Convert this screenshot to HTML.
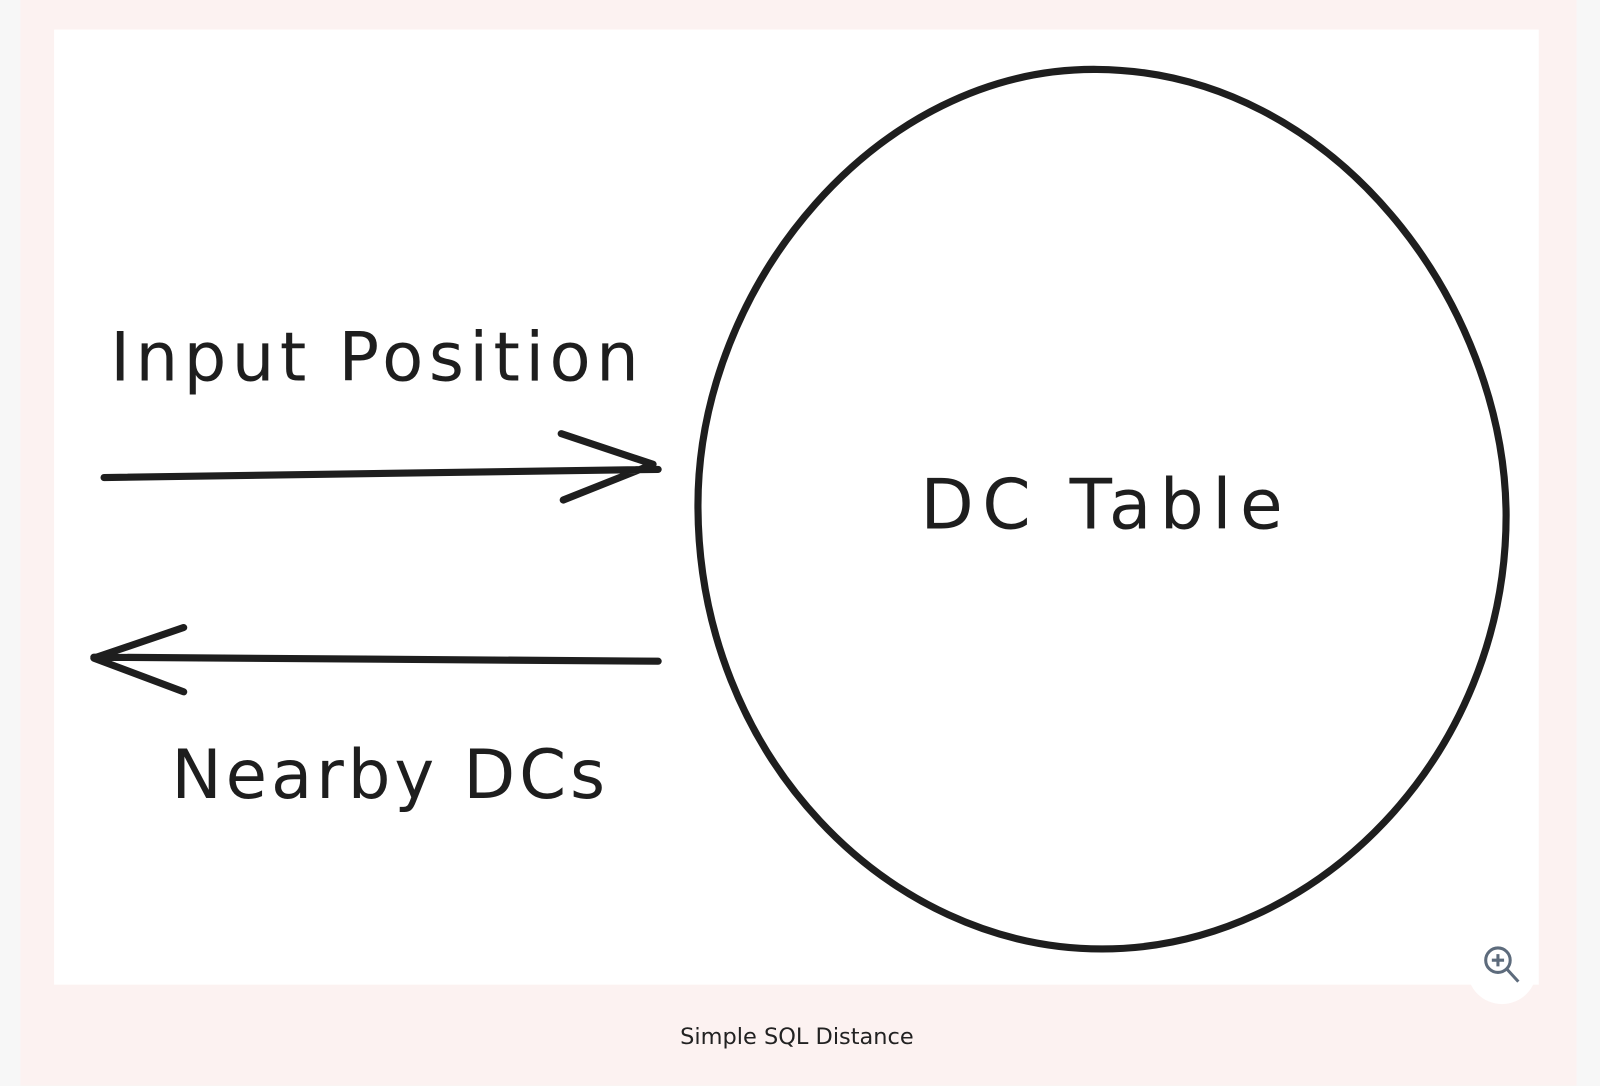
<!DOCTYPE html>
<html><head><meta charset="utf-8"><style>
html,body{margin:0;padding:0;width:1600px;height:1064px;background:#f7f7f7;overflow:hidden}
#wrap{position:absolute;left:0;top:0;width:1568px;height:1043px;transform:scale(1.0204);transform-origin:0 0}
#pink{position:absolute;left:20px;top:0;width:1525px;height:1064px;background:#fcf2f1}
#white{position:absolute;left:53px;top:29px;width:1455px;height:936px;background:#fff}
#cap{position:absolute;left:0;width:1562px;top:1004px;text-align:center;font:22px "DejaVu Sans","Liberation Sans",sans-serif;color:#222}
svg{position:absolute;left:0;top:0}
</style></head><body><div id="wrap">
<div id="pink"></div><div id="white"></div>
<svg width="1568" height="1043" viewBox="0 0 1568 1043">
<circle cx="1472" cy="950" r="34" fill="#fff"/>
<g fill="none" stroke="#1e1e1e" stroke-width="7" stroke-linecap="round" stroke-linejoin="round">
<path d="M1075 68 C1310 70 1475 300 1476 505 C1476 740 1290 930 1080 930 C870 930 684 740 684 495 C684 280 860 66 1075 68 Z"/>
<path d="M102 468 L645 460 M550 425 L640 455 L552 490"/>
<path d="M645 648 L92 644 M180 615 L92 645 L180 678"/>
</g>
<g fill="none" stroke="#5d6b7c" stroke-width="3"><circle cx="1468" cy="941" r="12"/><path d="M1477 950 L1488 962 M1468 935 v12 M1462 941 h12"/></g>
<g font-family="DejaVu Sans,Liberation Sans,sans-serif" fill="#1e1e1e">
<text x="108" y="373" font-size="66" textLength="518">Input Position</text>
<text x="168" y="782" font-size="66" textLength="425">Nearby DCs</text>
<text x="902" y="518" font-size="68" textLength="355">DC Table</text>
</g>
</svg>
<div id="cap">Simple SQL Distance</div>
</div></body></html>
